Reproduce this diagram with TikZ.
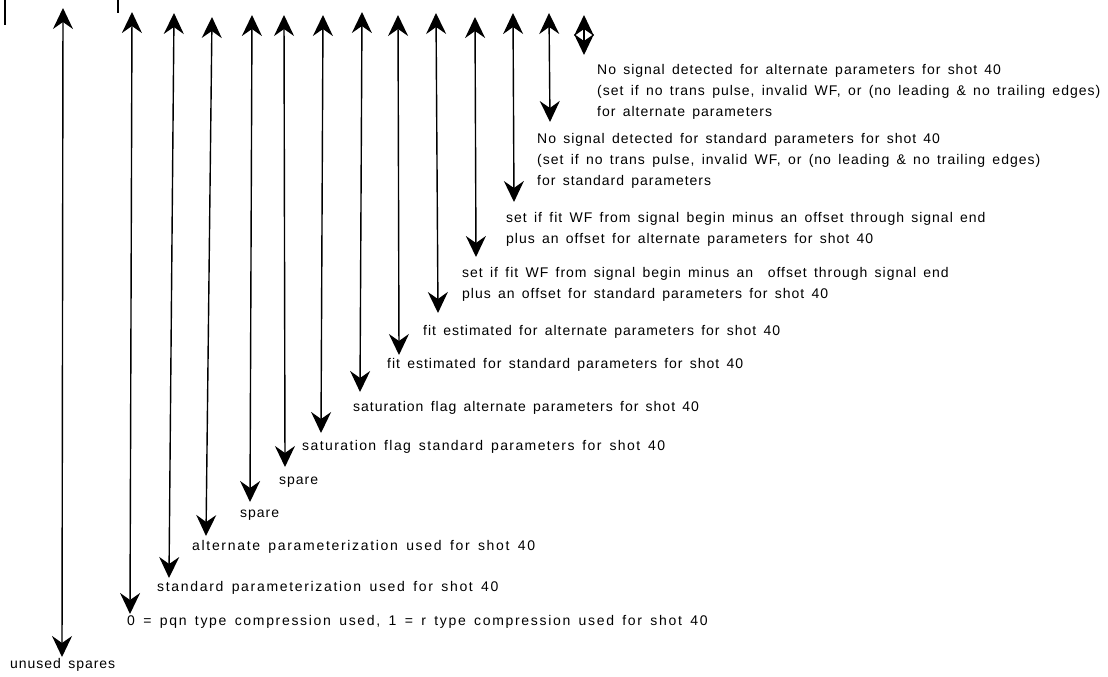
\documentclass[tikz,border=0pt]{standalone}
\usepackage{fontspec}
\setmainfont{Liberation Sans}[LetterSpace=7,WordSpace=1.5]
\usetikzlibrary{arrows.meta}

\begin{document}
\begin{tikzpicture}[x=1pt, y=-1pt,
  bitarrow/.style={<->, >={Stealth[length=21pt,width=20pt,inset=7pt]}, line width=1.4pt},
  bitlabel/.style={anchor=west, inner sep=0pt, align=left, font=\fontsize{14}{21}\selectfont},
  widelabel/.style={bitlabel, font=\fontsize{14}{21}\selectfont\addfontfeature{LetterSpace=12}}]
% Bit layout of the shot-40 flag word (one arrow per bit, hardcoded pixel positions)
\useasboundingbox (0,0) rectangle (1108,677);

% Cut-off marks at the top left
\coordinate (c1) at (5,0); \coordinate (c1e) at (5,25);
\coordinate (c2) at (118,0); \coordinate (c2e) at (118,13);
\draw[line width=1.2pt] (c1) -- (c1e);
\draw[line width=1.2pt] (c2) -- (c2e);

% Arrow ends (top and bottom)
\coordinate (t1) at (63,8);   \coordinate (b1) at (62,657);
\coordinate (t2) at (132,12); \coordinate (b2) at (130,614);
\coordinate (t3) at (174,13); \coordinate (b3) at (169,578);
\coordinate (t4) at (212,17); \coordinate (b4) at (206,536);
\coordinate (t5) at (252,15); \coordinate (b5) at (250,502);
\coordinate (t6) at (284,15); \coordinate (b6) at (285,467);
\coordinate (t7) at (323,15); \coordinate (b7) at (321,433);
\coordinate (t8) at (362,12); \coordinate (b8) at (360,392);
\coordinate (t9) at (398,15); \coordinate (b9) at (399,355);
\coordinate (t10) at (436,13); \coordinate (b10) at (438,313);
\coordinate (t11) at (475,17); \coordinate (b11) at (476,257);
\coordinate (t12) at (513,13); \coordinate (b12) at (514,202);
\coordinate (t13) at (549,13); \coordinate (b13) at (550,122);
\coordinate (t14) at (584,15); \coordinate (b14) at (584,55);

% Arrows
\draw[bitarrow] (t1) -- (b1);
\draw[bitarrow] (t2) -- (b2);
\draw[bitarrow] (t3) -- (b3);
\draw[bitarrow] (t4) -- (b4);
\draw[bitarrow] (t5) -- (b5);
\draw[bitarrow] (t6) -- (b6);
\draw[bitarrow] (t7) -- (b7);
\draw[bitarrow] (t8) -- (b8);
\draw[bitarrow] (t9) -- (b9);
\draw[bitarrow] (t10) -- (b10);
\draw[bitarrow] (t11) -- (b11);
\draw[bitarrow] (t12) -- (b12);
\draw[bitarrow] (t13) -- (b13);
\draw[bitarrow] (t14) -- (b14);

% Labels
\node[bitlabel] (unused) at (10,665) {unused spares};
\node[widelabel] (compr) at (127,622) {0 = pqn type compression used, 1 = r type compression used for shot 40};
\node[widelabel] (stdpar) at (157,588) {standard parameterization used for shot 40};
\node[widelabel] (altpar) at (192,547) {alternate parameterization used for shot 40};
\node[bitlabel] (spareA) at (240,515) {spare};
\node[bitlabel] (spareB) at (279,482) {spare};
\node[bitlabel, font=\fontsize{14}{21}\selectfont\addfontfeature{LetterSpace=10}] (satstd) at (302,447) {saturation flag standard parameters for shot 40};
\node[bitlabel] (satalt) at (353,408) {saturation flag alternate parameters for shot 40};
\node[bitlabel] (fitstd) at (387,365) {fit estimated for standard parameters for shot 40};
\node[bitlabel] (fitalt) at (423,332) {fit estimated for alternate parameters for shot 40};
\node[bitlabel] (wfstd) at (462,284) {set if fit WF from signal begin minus an\ \ offset through signal end\\plus an offset for standard parameters for shot 40};
\node[bitlabel] (wfalt) at (506,229) {set if fit WF from signal begin minus an offset through signal end\\plus an offset for alternate parameters for shot 40};
\node[bitlabel] (nostd) at (537,161) {No signal detected for standard parameters for shot 40\\(set if no trans pulse, invalid WF, or (no leading \& no trailing edges)\\for standard parameters};
\node[bitlabel] (noalt) at (597,92) {No signal detected for alternate parameters for shot 40\\(set if no trans pulse, invalid WF, or (no leading \& no trailing edges)\\for alternate parameters};
\end{tikzpicture}
\end{document}
